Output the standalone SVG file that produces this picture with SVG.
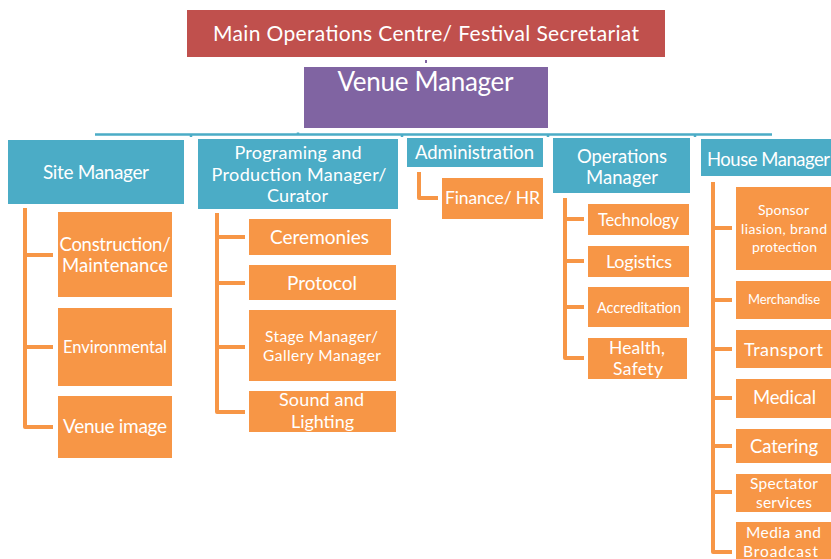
<svg xmlns="http://www.w3.org/2000/svg" width="831" height="559" viewBox="0 0 831 559">
<style>
text{font-family:Lato,"Open Sans","Liberation Sans",sans-serif;fill:#ffffff;text-anchor:middle}
.red{fill:#C0504D}
.pur{fill:#8064A2}
.teal{fill:#4BACC6}
.org{fill:#F79646}
.tl{stroke:#4BACC6;stroke-width:2.5;fill:none}
.ol{stroke:#F79646;stroke-width:4;fill:none;stroke-linejoin:round}
</style>
<rect width="831" height="559" fill="#ffffff"/>
<g id="connectors">
<line x1="426" y1="60" x2="426" y2="63" stroke="#8064A2" stroke-width="2"/>
<path class="tl" d="M95 134.5H772M191 134.5V137M298 134.5V132.5M402 134.5V137M548 134.5V137M695 134.5V137"/>
<path class="ol" d="M25 208V427H53M25 255H53M25 347H53"/>
<path class="ol" d="M217 213V412H245M217 237H245M217 283H245M217 347H245"/>
<path class="ol" d="M419 172V198H438"/>
<path class="ol" d="M565 198V358H584M565 219H584M565 261H584M565 307H584"/>
<path class="ol" d="M713 182V552H732M713 228H732M713 300H732M713 349H732M713 398H732M713 446H732M713 492H732"/>
</g>
<g id="main">
<rect class="red" x="187" y="10" width="478" height="47"/>
<text x="426" y="40.5" font-size="21" textLength="426">Main Operations Centre/ Festival Secretariat</text>
</g>
<g id="venue">
<rect class="pur" x="304" y="67" width="244" height="61"/>
<text x="425.5" y="90.5" font-size="26" textLength="176">Venue Manager</text>
</g>
<g id="site">
<rect class="teal" x="8" y="140" width="176" height="64"/>
<text x="96" y="178.5" font-size="19" textLength="106">Site Manager</text>
</g>
<g id="programing">
<rect class="teal" x="198" y="139" width="200" height="70"/>
<text x="298" y="158.5" font-size="18" textLength="127">Programing and</text>
<text x="299" y="180.5" font-size="18" textLength="175">Production Manager/</text>
<text x="297.5" y="201.5" font-size="18" textLength="61">Curator</text>
</g>
<g id="administration">
<rect class="teal" x="407" y="138" width="136" height="29"/>
<text x="474.5" y="158.5" font-size="18.5" textLength="119">Administration</text>
</g>
<g id="operations">
<rect class="teal" x="553" y="138" width="137" height="55"/>
<text x="622" y="162.5" font-size="18.5" textLength="90">Operations</text>
<text x="622" y="183.5" font-size="18.5" textLength="72">Manager</text>
</g>
<g id="house">
<rect class="teal" x="701" y="139" width="141" height="37"/>
<text x="707" y="165.5" font-size="18.5" style="text-anchor:start" textLength="123">House Manager</text>
</g>
<g id="construction">
<rect class="org" x="58" y="212" width="114" height="85"/>
<text x="115" y="250.5" font-size="18.5" textLength="111">Construction/</text>
<text x="115" y="271.5" font-size="18.5" textLength="106">Maintenance</text>
</g>
<g id="environmental">
<rect class="org" x="58" y="308" width="114" height="78"/>
<text x="115" y="352.5" font-size="16.5" textLength="104">Environmental</text>
</g>
<g id="venueimage">
<rect class="org" x="58" y="396" width="114" height="62"/>
<text x="115" y="432.5" font-size="19" textLength="104">Venue image</text>
</g>
<g id="ceremonies">
<rect class="org" x="249" y="219" width="142" height="36"/>
<text x="319.5" y="243.5" font-size="19" textLength="99">Ceremonies</text>
</g>
<g id="protocol">
<rect class="org" x="249" y="265" width="147" height="35"/>
<text x="322" y="289.5" font-size="19" textLength="70">Protocol</text>
</g>
<g id="stage">
<rect class="org" x="249" y="310" width="147" height="71"/>
<text x="321.5" y="342" font-size="15.5" textLength="113">Stage Manager/</text>
<text x="322" y="360.5" font-size="15.5" textLength="118">Gallery Manager</text>
</g>
<g id="sound">
<rect class="org" x="249" y="391" width="147" height="41"/>
<text x="321.5" y="405.5" font-size="18" textLength="85">Sound and</text>
<text x="322.5" y="427.5" font-size="18" textLength="63">Lighting</text>
</g>
<g id="finance">
<rect class="org" x="442" y="178" width="101" height="41"/>
<text x="492.5" y="203.5" font-size="17.5" textLength="95">Finance/ HR</text>
</g>
<g id="technology">
<rect class="org" x="588" y="204" width="101" height="31"/>
<text x="638.5" y="225.5" font-size="16.5" textLength="81">Technology</text>
</g>
<g id="logistics">
<rect class="org" x="588" y="246" width="101" height="31"/>
<text x="639" y="267.5" font-size="18" textLength="66">Logistics</text>
</g>
<g id="accreditation">
<rect class="org" x="588" y="287" width="101" height="40"/>
<text x="639" y="312.5" font-size="14.5" textLength="84">Accreditation</text>
</g>
<g id="health">
<rect class="org" x="588" y="338" width="99" height="41"/>
<text x="637" y="353.5" font-size="17.5" textLength="56">Health,</text>
<text x="638" y="374.5" font-size="17.5" textLength="50">Safety</text>
</g>
<g id="sponsor">
<rect class="org" x="736" y="187" width="96" height="83"/>
<text x="783.5" y="214.5" font-size="14" textLength="51">Sponsor</text>
<text x="784" y="233.5" font-size="14" textLength="86">liasion, brand</text>
<text x="784.5" y="251.5" font-size="14" textLength="65">protection</text>
</g>
<g id="merchandise">
<rect class="org" x="736" y="281" width="96" height="38"/>
<text x="784" y="303.5" font-size="13" textLength="72">Merchandise</text>
</g>
<g id="transport">
<rect class="org" x="736" y="330" width="96" height="38"/>
<text x="783.5" y="355.5" font-size="18" textLength="79">Transport</text>
</g>
<g id="medical">
<rect class="org" x="736" y="379" width="96" height="39"/>
<text x="784.5" y="403.5" font-size="18.5" textLength="63">Medical</text>
</g>
<g id="catering">
<rect class="org" x="736" y="429" width="96" height="34"/>
<text x="784" y="452.5" font-size="18.5" textLength="68">Catering</text>
</g>
<g id="spectator">
<rect class="org" x="736" y="474" width="96" height="38"/>
<text x="784" y="488.5" font-size="15.5" textLength="68">Spectator</text>
<text x="784" y="507.5" font-size="15.5" textLength="56">services</text>
</g>
<g id="media">
<rect class="org" x="736" y="522" width="96" height="40"/>
<text x="783.5" y="537.5" font-size="15.5" textLength="75">Media and</text>
<text x="780.5" y="557" font-size="15.5" textLength="75">Broadcast</text>
</g>
</svg>
